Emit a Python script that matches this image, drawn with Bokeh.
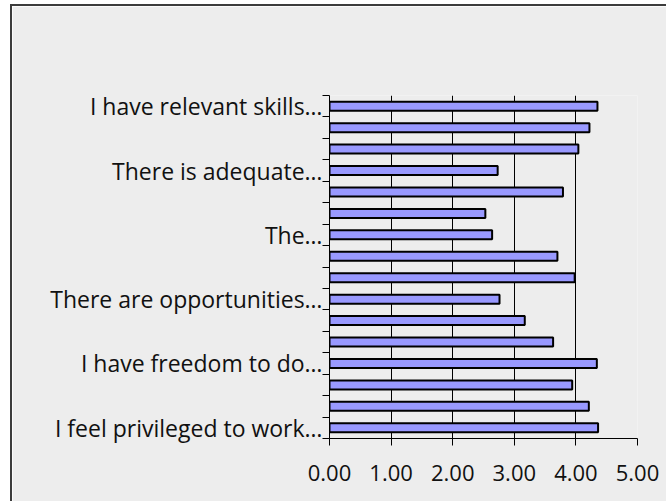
from bokeh.plotting import figure
from bokeh.models import FixedTicker, NumeralTickFormatter, Range1d
from bokeh.embed import file_html
from bokeh.resources import INLINE

# Data (top to bottom)
categories = [
    "I have relevant skills…", "", "",
    "There is adequate…", "", "",
    "The…", "", "",
    "There are opportunities…", "", "",
    "I have freedom to do…", "", "",
    "I feel privileged to work…",
]
values = [4.35, 4.22, 4.04, 2.73, 3.79, 2.53, 2.64, 3.70,
          3.98, 2.76, 3.17, 3.63, 4.34, 3.94, 4.21, 4.36]
x_ticks = [0, 1, 2, 3, 4, 5]

n = len(values)
ypos = list(range(n))

p = figure(width=656, height=497, output_backend="svg", toolbar_location=None,
           x_range=Range1d(0, 5), y_range=Range1d(n - 0.5, -0.5),
           min_border_left=317, min_border_right=31, min_border_top=89,
           min_border_bottom=65)
p.margin = (6, 0, 0, 12)
p.styles = {"box-shadow": "-2px -2px 0 0 #3c3c3c"}

p.background_fill_color = "#EDEDED"
p.border_fill_color = "#EDEDED"
p.outline_line_color = None

p.hbar(y=ypos, right=values, left=0, height=0.42,
       fill_color="#9999FF", line_color="black", line_width=2)

# grid
p.ygrid.grid_line_color = None
p.xgrid.ticker = FixedTicker(ticks=x_ticks)
p.xgrid.grid_line_color = "black"
p.xgrid.grid_line_width = 1

# x axis
p.xaxis.ticker = FixedTicker(ticks=x_ticks)
p.xaxis.formatter = NumeralTickFormatter(format="0.00")
p.xaxis.axis_line_color = "black"
p.xaxis.major_tick_line_color = "black"
p.xaxis.major_tick_out = 7
p.xaxis.major_tick_in = 0
p.xaxis.minor_tick_line_color = None
p.xaxis.major_label_text_font = "Open Sans"
p.xaxis.major_label_text_font_size = "22px"
p.xaxis.major_label_text_color = "#111111"
p.xaxis.major_label_standoff = 19

# y axis
label_pos = [i for i, c in enumerate(categories) if c]
bounds = [i - 0.5 for i in range(n + 1)]
p.yaxis.ticker = FixedTicker(ticks=label_pos, minor_ticks=bounds)
p.yaxis.major_label_overrides = {i: categories[i] for i in label_pos}
p.yaxis.axis_line_color = "black"
p.yaxis.major_tick_line_color = None
p.yaxis.major_tick_out = 0
p.yaxis.major_tick_in = 0
p.yaxis.minor_tick_line_color = "black"
p.yaxis.minor_tick_out = 7
p.yaxis.minor_tick_in = 0
p.yaxis.major_label_text_font = "Open Sans"
p.yaxis.major_label_text_font_size = "23px"
p.yaxis.major_label_text_color = "#111111"
p.yaxis.major_label_standoff = 0

open("out.html", "w").write(file_html(p, INLINE))
